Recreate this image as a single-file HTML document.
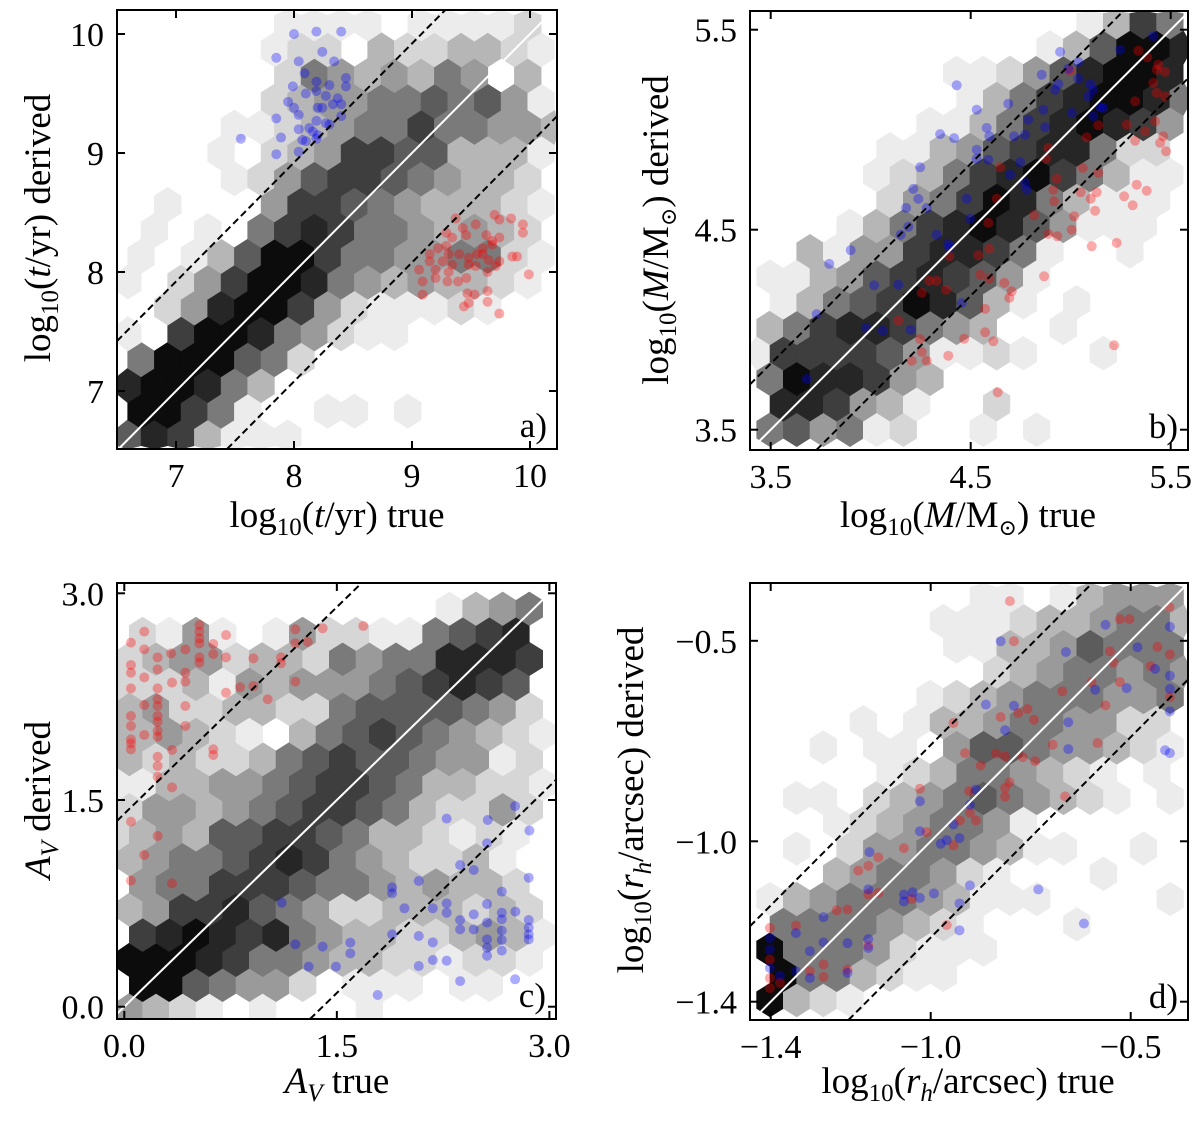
<!DOCTYPE html>
<html><head><meta charset="utf-8">
<style>
html,body{margin:0;padding:0;background:#fff;width:1200px;height:1121px;overflow:hidden;position:relative;}
svg{display:block;}
text{font-family:"Liberation Serif","DejaVu Serif",serif;fill:#000;}
</style></head>
<body>
<svg id="fig" xmlns="http://www.w3.org/2000/svg" width="1200" height="1121" viewBox="0 0 1200 1121" style="position:absolute;left:0;top:0">
<defs>
<clipPath id="clipA"><rect x="117" y="10" width="440" height="439"/></clipPath>
<clipPath id="clipB"><rect x="750" y="11" width="438" height="439"/></clipPath>
<clipPath id="clipC"><rect x="117" y="583" width="439" height="436"/></clipPath>
<clipPath id="clipD"><rect x="750" y="583" width="438" height="437"/></clipPath>
</defs>
</svg>
<script>
// ---------- hexbin density (rows bottom -> top, digit 0..9) ----------
const hexA = ["68731110000000000","9975100110100000","89985300000000000","5999652000000000","10799854211000000","0248997421112100","10247998543433210","1013699755445521","01010578755434320","0100047765433321","00001246776543320","0001023477663331","00001123455755443","0000023445565641","00000025434354030","0000012203223321","00000011110111120"];
const hexB = ["56451200101000000","08874310020000000","59887430000000000","17777641121001000","35788754300100000","01356798631010000","11346787641000000","00314478875100100","00013578986411100","00000245798531110","00001235789753110","00000113467885220","00000011357898740","00000000135789985","00000001124689980","00000000000136998","00000000000013750"];
const hexC = ["43210100010000000","09965442011101100","99987554332212210","07898785433223431","34778654223332320","04557776554343320","34556787543223100","23436677653321210","24434567765322420","11334456776533221","32322356766544120","33432103567654321","34223322566665420","22231434445678760","23442332545588870","02141014221156780","00000000000013450"];
const hexD = ["93210000000000000","09553211000000000","95554211100000000","05555432100010000","13455543111000010","00034554210001000","01024455431100100","00012345541000000","01102345654321010","00000123554321010","00101104665443210","00001013345544220","00000012345554450","00000000023455454","00000001133465550","00000001112334553","00000000110134440"];
const grayLevels = [255,236,214,182,154,122,92,62,38,12];

// ---------- scatter points [x, y] in data units ----------
const blueA = [[7.55,9.12],[7.85,9.80],[8.00,10.00],[8.19,10.02],[8.40,10.02],[8.04,9.77],[8.24,9.85],[8.34,9.77],[8.09,9.67],[7.99,9.56],[8.19,9.60],[8.30,9.57],[8.44,9.63],[8.44,9.56],[7.95,9.43],[8.10,9.50],[8.19,9.52],[8.27,9.48],[8.37,9.46],[8.00,9.38],[8.20,9.38],[8.33,9.41],[8.40,9.41],[7.85,9.29],[8.04,9.32],[8.19,9.27],[8.27,9.25],[8.40,9.31],[8.04,9.20],[8.13,9.21],[8.20,9.15],[8.30,9.24],[7.89,9.13],[8.07,9.11],[8.19,9.12],[7.85,8.99],[8.04,9.01],[8.16,9.18],[8.10,9.10],[8.24,9.38]];
const redA = [[9.37,8.45],[9.43,8.37],[9.54,8.40],[9.70,8.48],[9.74,8.44],[9.84,8.45],[9.94,8.40],[9.94,8.33],[9.29,8.33],[9.34,8.29],[9.46,8.31],[9.63,8.31],[9.68,8.26],[9.74,8.29],[9.60,8.20],[9.68,8.23],[9.15,8.15],[9.22,8.20],[9.29,8.22],[9.31,8.15],[9.40,8.15],[9.48,8.12],[9.55,8.15],[9.60,8.15],[9.65,8.10],[9.74,8.09],[9.85,8.13],[9.89,8.13],[9.06,8.02],[9.15,8.09],[9.20,8.02],[9.26,8.09],[9.34,8.06],[9.48,8.06],[9.54,8.05],[9.64,8.00],[9.99,7.98],[9.09,7.92],[9.20,7.95],[9.30,7.92],[9.39,7.92],[9.46,7.95],[9.09,7.81],[9.47,7.82],[9.53,7.81],[9.64,7.84],[9.64,7.75],[9.44,7.71],[9.48,7.74],[9.74,7.65],[9.31,8.00],[9.71,8.05]];
const blueB = [[4.947,5.389],[5.038,5.339],[4.988,5.305],[5.247,5.400],[5.413,5.467],[4.855,5.275],[4.938,5.229],[5.038,5.255],[5.097,5.229],[5.113,5.200],[4.922,5.200],[5.088,5.167],[5.147,5.112],[5.005,5.084],[4.863,5.100],[4.788,5.050],[4.872,5.012],[5.113,5.067],[5.163,5.109],[4.430,5.222],[4.530,5.100],[4.688,5.130],[4.580,5.009],[4.593,4.967],[4.717,4.967],[4.772,4.975],[4.347,4.978],[4.417,4.958],[4.530,4.900],[4.530,4.855],[4.588,4.850],[4.747,4.838],[4.247,4.812],[4.697,4.775],[4.780,4.700],[4.772,4.734],[4.213,4.704],[4.238,4.654],[4.280,4.609],[4.177,4.609],[4.480,4.655],[4.497,4.555],[4.188,4.515],[4.150,4.475],[4.330,4.475],[4.388,4.430],[4.393,4.409],[3.900,4.398],[3.793,4.329],[4.017,4.222],[4.138,4.225],[3.730,4.078],[4.455,4.133],[3.977,4.009],[4.060,3.995],[4.200,4.000],[3.680,3.754]];
const redB = [[5.338,5.395],[5.383,5.362],[5.438,5.325],[5.430,5.300],[5.472,5.289],[4.997,5.295],[5.413,5.234],[5.430,5.184],[5.472,5.167],[5.322,5.142],[5.422,5.042],[5.280,5.025],[5.138,5.022],[5.080,4.962],[5.372,4.992],[5.322,4.945],[5.463,4.967],[5.447,4.934],[5.477,4.892],[4.888,4.909],[4.877,4.855],[4.647,4.812],[5.060,4.809],[5.138,4.784],[4.930,4.755],[4.913,4.700],[5.050,4.687],[5.130,4.687],[5.100,4.655],[5.330,4.725],[5.380,4.695],[5.267,4.667],[5.310,4.622],[5.122,4.595],[4.630,4.655],[4.917,4.642],[5.017,4.567],[4.817,4.572],[4.588,4.534],[5.005,4.500],[4.888,4.479],[4.933,4.467],[5.105,4.417],[5.230,4.434],[4.593,4.405],[4.538,4.372],[4.393,4.367],[4.547,4.275],[4.593,4.255],[4.867,4.267],[4.668,4.234],[4.705,4.192],[4.693,4.159],[4.293,4.245],[4.330,4.245],[4.255,4.184],[4.377,4.200],[4.138,4.045],[4.572,4.104],[4.247,3.953],[4.572,3.987],[4.613,3.942],[4.467,3.955],[4.388,3.870],[4.255,3.889],[4.205,3.845],[4.280,3.845],[5.217,3.922],[4.635,3.687]];
const redC = [[0.141,2.722],[0.047,2.642],[0.141,2.593],[0.235,2.535],[0.330,2.564],[0.235,2.448],[0.047,2.480],[0.047,2.424],[0.141,2.390],[0.047,2.310],[0.235,2.310],[0.337,2.352],[0.431,2.593],[0.431,2.424],[0.431,2.359],[0.530,2.770],[0.530,2.722],[0.530,2.673],[0.530,2.637],[0.628,2.632],[0.628,2.559],[0.530,2.535],[0.530,2.497],[0.718,2.697],[0.718,2.535],[0.718,2.279],[0.817,2.318],[0.911,2.528],[0.911,2.327],[1.012,2.231],[1.106,2.535],[1.106,2.492],[1.207,2.739],[1.207,2.637],[1.207,2.359],[1.294,2.649],[1.400,2.746],[1.687,2.763],[0.141,2.189],[0.235,2.231],[0.235,2.182],[0.235,2.110],[0.235,2.068],[0.235,2.003],[0.235,1.960],[0.141,1.972],[0.047,2.110],[0.047,2.037],[0.047,1.940],[0.047,1.868],[0.047,1.911],[0.431,2.182],[0.431,2.037],[0.337,1.863],[0.628,1.868],[0.628,1.827],[0.235,1.814],[0.235,1.747],[0.235,1.669],[0.337,1.592],[0.047,1.343],[0.235,1.239],[0.141,1.101],[0.047,0.915],[0.337,0.895]];
const blueC = [[2.275,1.365],[2.565,1.355],[2.758,1.456],[2.859,1.278],[2.560,1.186],[2.370,1.028],[2.466,0.992],[2.854,0.936],[2.078,0.912],[1.890,0.866],[1.890,0.823],[2.664,0.835],[1.111,0.755],[1.977,0.714],[2.177,0.714],[2.275,0.750],[2.275,0.682],[2.560,0.745],[2.664,0.682],[2.760,0.690],[2.370,0.629],[2.466,0.670],[2.560,0.610],[2.664,0.634],[2.854,0.629],[2.370,0.561],[2.466,0.561],[2.560,0.489],[2.664,0.552],[2.854,0.574],[2.854,0.525],[2.854,0.489],[2.560,0.428],[2.664,0.484],[2.664,0.407],[1.890,0.525],[2.078,0.513],[2.177,0.467],[1.595,0.465],[1.595,0.387],[1.400,0.436],[1.207,0.453],[1.301,0.291],[1.494,0.291],[2.078,0.295],[2.177,0.339],[2.275,0.334],[2.560,0.370],[2.370,0.186],[2.758,0.199],[1.788,0.085]];
const redD = [[-0.802,-0.401],[-0.792,-0.501],[-0.527,-0.446],[-0.503,-0.446],[-0.403,-0.416],[-0.433,-0.515],[-0.402,-0.534],[-0.552,-0.526],[-0.543,-0.554],[-0.450,-0.563],[-0.527,-0.603],[-0.598,-0.603],[-0.671,-0.626],[-0.563,-0.661],[-0.402,-0.640],[-0.758,-0.670],[-0.781,-0.680],[-0.825,-0.690],[-0.742,-0.697],[-0.943,-0.705],[-0.695,-0.759],[-0.583,-0.755],[-0.770,-0.790],[-0.739,-0.800],[-0.814,-0.788],[-0.837,-0.781],[-0.914,-0.780],[-0.875,-0.811],[-0.803,-0.853],[-0.814,-0.867],[-0.814,-0.889],[-0.904,-0.875],[-0.664,-0.888],[-1.027,-0.869],[-0.902,-0.929],[-0.887,-0.948],[-0.927,-0.948],[-1.010,-0.977],[-0.943,-1.010],[-1.067,-1.017],[-1.131,-1.040],[-1.156,-1.061],[-1.181,-1.073],[-1.131,-1.129],[-1.156,-1.133],[-1.048,-1.144],[-1.208,-1.170],[-1.235,-1.172],[-1.337,-1.210],[-0.960,-1.209],[-1.402,-1.216],[-1.268,-1.307],[-1.302,-1.324],[-1.268,-1.338],[-1.208,-1.320],[-1.156,-1.260],[-1.402,-1.295],[-1.402,-1.341],[-1.402,-1.366],[-1.377,-1.353]];
const blueD = [[-0.825,-0.501],[-0.662,-0.528],[-0.563,-0.460],[-0.402,-0.465],[-0.483,-0.516],[-0.439,-0.570],[-0.402,-0.587],[-0.510,-0.618],[-0.589,-0.622],[-0.402,-0.620],[-0.402,-0.676],[-0.792,-0.662],[-0.862,-0.659],[-0.656,-0.703],[-0.814,-0.723],[-0.656,-0.770],[-0.414,-0.773],[-0.402,-0.780],[-0.887,-0.871],[-1.027,-0.900],[-0.902,-0.909],[-0.943,-0.958],[-1.027,-0.975],[-0.975,-1.006],[-0.960,-0.997],[-0.928,-0.992],[-1.153,-1.027],[-1.156,-1.120],[-1.067,-1.133],[-1.067,-1.150],[-1.045,-1.127],[-1.027,-1.141],[-0.992,-1.130],[-0.902,-1.110],[-0.928,-1.155],[-0.928,-1.222],[-0.731,-1.120],[-0.617,-1.205],[-1.268,-1.189],[-1.337,-1.229],[-1.268,-1.252],[-1.302,-1.274],[-1.208,-1.254],[-1.156,-1.244],[-1.156,-1.266],[-1.302,-1.341],[-1.337,-1.324],[-1.377,-1.335],[-1.208,-1.328],[-1.402,-1.241],[-1.402,-1.270],[-1.402,-1.316]];

// ---------- tick values ----------
const ticksA = [7,8,9,10];
const ticksB = [3.5,4.5,5.5];
const ticksC = [0.0,1.5,3.0];
const ticksD = [-1.4,-1.0,-0.5];
const tickLabelsA = ["7","8","9","10"];
const tickLabelsB = ["3.5","4.5","5.5"];
const tickLabelsC = ["0.0","1.5","3.0"];
const tickLabelsD = ["\u22121.4","\u22121.0","\u22120.5"];
const bandA = 0.92, bandB = 0.33, bandC = 1.4, bandD = 0.24;

const NS = "http://www.w3.org/2000/svg";
const svg = document.getElementById('fig');
function mk(tag, attrs, parent){ const e=document.createElementNS(NS,tag); for(const k in attrs) e.setAttribute(k,attrs[k]); (parent||svg).appendChild(e); return e; }

const panels = [
 {id:'a', box:[117,10,557,449], clip:'clipA', xr:[7,176,118], yr:[7,391,119], hex:hexA, hx0:6.591, hdx:0.226, hy0:6.613, hdy:0.217, oddShift:1,
  ticks:ticksA, labels:tickLabelsA, blue:blueA, red:redA, band:bandA},
 {id:'b', box:[750,11,1188,450], clip:'clipB', xr:[3.5,770.7,200], yr:[3.5,429.7,200], hex:hexB, hx0:3.4965, hdx:0.1333, hy0:3.5, hdy:0.1274, oddShift:-1,
  ticks:ticksB, labels:tickLabelsB, blue:blueB, red:redB, band:bandB},
 {id:'c', box:[117,583,556,1019], clip:'clipC', xr:[0,124.3,141.7], yr:[0,1006.7,137.8], hex:hexC, hx0:0.0353, hdx:0.1882, hy0:-0.024, hdy:0.182, oddShift:-1,
  ticks:ticksC, labels:tickLabelsC, blue:blueC, red:redC, band:bandC},
 {id:'d', box:[750,583,1188,1020], clip:'clipD', xr:[-1.4,770.7,400], yr:[-1.4,1001.7,401], hex:hexD, hx0:-1.4018, hdx:0.0667, hy0:-1.396, hdy:0.063, oddShift:-1,
  ticks:ticksD, labels:tickLabelsD, blue:blueD, red:redD, band:bandD}
];

panels.forEach(p=>{
  const X = v => p.xr[1] + (v - p.xr[0]) * p.xr[2];
  const Y = v => p.yr[1] - (v - p.yr[0]) * p.yr[2];
  const [L,T,R,B] = p.box;
  const xmin = p.xr[0] + (L - p.xr[1]) / p.xr[2], xmax = p.xr[0] + (R - p.xr[1]) / p.xr[2];
  const ymin = p.yr[0] - (B - p.yr[1]) / p.yr[2], ymax = p.yr[0] - (T - p.yr[1]) / p.yr[2];
  const g = mk('g',{'clip-path':'url(#'+p.clip+')'});
  
  
  const hw = p.hdx * p.xr[2];
  const rs = p.hdy * p.yr[2];
  const hh = rs * 4/3;
  p.hex.forEach((row, r)=>{
    for(let k=0;k<row.length;k++){
      const d = +row[k]; if(!d) continue;
      const xd = p.hx0 + k*p.hdx + (r%2 ? p.oddShift*p.hdx/2 : 0);
      const yd = p.hy0 + r*p.hdy;
      const cx = X(xd), cy = Y(yd);
      const pts = [[0,-hh/2],[hw/2,-hh/4],[hw/2,hh/4],[0,hh/2],[-hw/2,hh/4],[-hw/2,-hh/4]].map(q=>{
        const px = Math.min(R, Math.max(L, cx+q[0])), py = Math.min(B, Math.max(T, cy+q[1]));
        return px.toFixed(1)+','+py.toFixed(1);}).join(' ');
      const gv = grayLevels[d];
      const hex = mk('polygon',{points:pts, fill:`rgb(${gv},${gv},${gv})`, stroke:`rgb(${gv},${gv},${gv})`, 'stroke-width':0.6}, g);
      
      
    }
  });
  p.red.forEach(pt=>{
    const c = mk('circle',{cx:X(pt[0]),cy:Y(pt[1]),r:5,fill:'rgba(255,0,0,0.33)'},g);
    
    
  });
  p.blue.forEach(pt=>{
    const c = mk('circle',{cx:X(pt[0]),cy:Y(pt[1]),r:5,fill:'rgba(0,0,255,0.33)'},g);
    
    
  });
  function seg(o){ const a = Math.max(xmin, ymin - o), b = Math.min(xmax, ymax - o); return [a,b]; }
  const s0 = seg(0);
  const one = mk('line',{x1:X(s0[0]),y1:Y(s0[0]),x2:X(s0[1]),y2:Y(s0[1]),stroke:'#fff','stroke-width':2},g);
  
  
  [p.band,-p.band].forEach((o,i)=>{
    const s = seg(o);
    const l = mk('line',{x1:X(s[0]),y1:Y(s[0]+o),x2:X(s[1]),y2:Y(s[1]+o),stroke:'#000','stroke-width':2,'stroke-dasharray':'7,4'},g);
    
    
  });
  const fr = mk('rect',{x:L,y:T,width:R-L,height:B-T,fill:'none',stroke:'#000','stroke-width':2});
  
  
  p.ticks.forEach((t,i)=>{
    const x = X(t), y = Y(t);
    mk('line',{x1:x,y1:B,x2:x,y2:B-8,stroke:'#000','stroke-width':2});
    mk('line',{x1:x,y1:T,x2:x,y2:T+8,stroke:'#000','stroke-width':2});
    mk('line',{x1:L,y1:y,x2:L+8,y2:y,stroke:'#000','stroke-width':2});
    mk('line',{x1:R,y1:y,x2:R-8,y2:y,stroke:'#000','stroke-width':2});
    const xl = mk('text',{x:x,y:B+38,'font-size':34,'text-anchor':'middle'});
    xl.textContent = p.labels[i];
    
    
    const yl = mk('text',{x:L-13,y:y+12,'font-size':34,'text-anchor':'end'});
    yl.textContent = p.labels[i];
    
    
  });
  const pl = mk('text',{x:R-10,y:B-12,'font-size':35,'text-anchor':'end'});
  pl.textContent = p.id+')';
  
  
});
</script>
<svg style="position:absolute;left:0;top:0" width="1200" height="1121">
<g font-family="Liberation Serif, DejaVu Serif, serif" font-size="37">
<text x="337" y="527" text-anchor="middle">log<tspan font-size="25" dy="8">10</tspan><tspan dy="-8">(</tspan><tspan font-style="italic">t</tspan>/yr) true</text>
<text transform="translate(50,228) rotate(-90)" text-anchor="middle">log<tspan font-size="25" dy="8">10</tspan><tspan dy="-8">(</tspan><tspan font-style="italic">t</tspan>/yr) derived</text>
<text x="968" y="527" text-anchor="middle">log<tspan font-size="25" dy="8">10</tspan><tspan dy="-8">(</tspan><tspan font-style="italic">M</tspan>/M<tspan font-size="22" dy="8">⊙</tspan><tspan dy="-8">) true</tspan></text>
<text transform="translate(668,230) rotate(-90)" text-anchor="middle">log<tspan font-size="25" dy="8">10</tspan><tspan dy="-8">(</tspan><tspan font-style="italic">M</tspan>/M<tspan font-size="22" dy="8">⊙</tspan><tspan dy="-8">) derived</tspan></text>
<text x="337" y="1093" text-anchor="middle"><tspan font-style="italic">A</tspan><tspan font-size="25" font-style="italic" dy="8">V</tspan><tspan dy="-8"> true</tspan></text>
<text transform="translate(50,800) rotate(-90)" text-anchor="middle"><tspan font-style="italic">A</tspan><tspan font-size="25" font-style="italic" dy="8">V</tspan><tspan dy="-8"> derived</tspan></text>
<text x="968" y="1093" text-anchor="middle">log<tspan font-size="25" dy="8">10</tspan><tspan dy="-8">(</tspan><tspan font-style="italic">r</tspan><tspan font-size="25" font-style="italic" dy="8">h</tspan><tspan dy="-8">/arcsec) true</tspan></text>
<text transform="translate(643,800) rotate(-90)" text-anchor="middle">log<tspan font-size="25" dy="8">10</tspan><tspan dy="-8">(</tspan><tspan font-style="italic">r</tspan><tspan font-size="25" font-style="italic" dy="8">h</tspan><tspan dy="-8">/arcsec) derived</tspan></text>
</g>
</svg>
</body></html>
